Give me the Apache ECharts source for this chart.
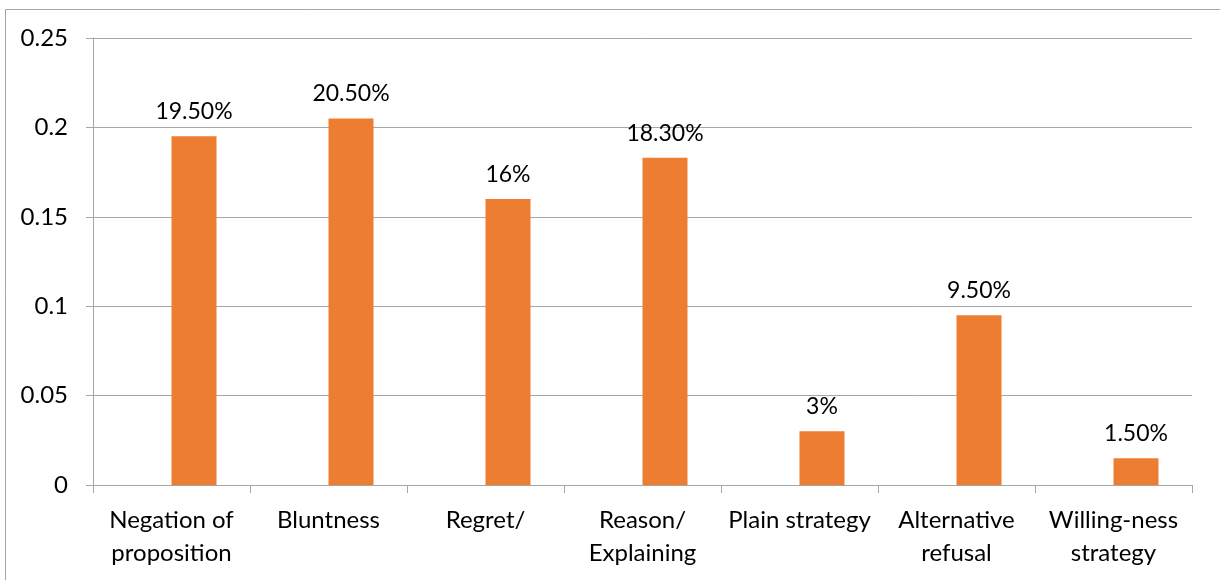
<!DOCTYPE html>
<html><head><meta charset="utf-8">
<script src="https://cdn.jsdelivr.net/npm/echarts@6/dist/echarts.min.js"></script>
<style>html,body{margin:0;padding:0;background:#fff}#c{width:1220px;height:580px}</style>
</head><body><div id="c"></div>
<script>
const categories = ["Negation of\nproposition", "Bluntness", "Regret/", "Reason/\nExplaining", "Plain strategy", "Alternative\nrefusal", "Willing-ness\nstrategy"];
const values = [0.195, 0.205, 0.16, 0.183, 0.03, 0.095, 0.015];
const valueLabels = ["19.50%", "20.50%", "16%", "18.30%", "3%", "9.50%", "1.50%"];
const yTicks = [0, 0.05, 0.1, 0.15, 0.2, 0.25];
const emptySeries = categories.map(() => null);

const font = 'Lato, "Liberation Sans", sans-serif';
const chart = echarts.init(document.getElementById('c'));
chart.setOption({
  animation: false,
  graphic: [{type: 'rect', shape: {x: 5.5, y: 9.5, width: 1230, height: 590}, style: {fill: 'none', stroke: '#a6a6a6', lineWidth: 1}, z: -1}],
  grid: {left: 93, right: 28, top: 38, bottom: 95},
  xAxis: {
    type: 'category', data: categories,
    axisLine: {lineStyle: {color: '#a6a6a6', width: 1}},
    axisTick: {show: true, length: 8, alignWithLabel: false, lineStyle: {color: '#a6a6a6'}},
    axisLabel: {interval: 0, color: '#000', fontSize: 24, fontFamily: font, lineHeight: 33, margin: 19}
  },
  yAxis: {
    type: 'value', min: yTicks[0], max: yTicks[yTicks.length - 1], interval: 0.05,
    axisLine: {show: true, lineStyle: {color: '#a6a6a6', width: 1}},
    axisTick: {show: true, length: 7, lineStyle: {color: '#a6a6a6'}},
    splitLine: {lineStyle: {color: '#a6a6a6', width: 1}},
    axisLabel: {color: '#000', fontSize: 24, fontFamily: font, margin: 25}
  },
  series: [
    {type: 'bar', data: emptySeries, barWidth: 45, barGap: '0%'},
    {type: 'bar', data: values, barWidth: 45, barGap: '0%',
     itemStyle: {color: '#ED7D31'},
     label: {show: true, position: 'top', distance: 13, color: '#000', fontSize: 23, fontFamily: font,
       formatter: p => valueLabels[p.dataIndex]}}
  ]
});
</script></body></html>
